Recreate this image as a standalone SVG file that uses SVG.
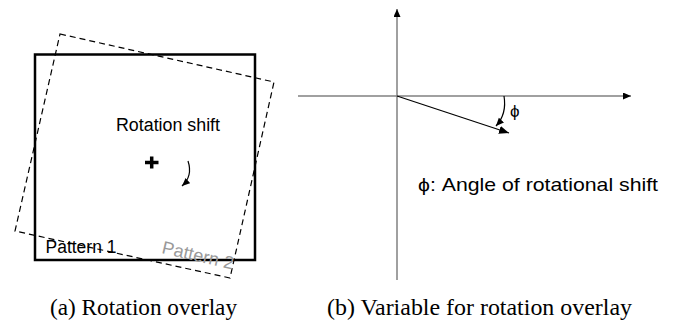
<svg xmlns="http://www.w3.org/2000/svg" width="676" height="325" viewBox="0 0 676 325">
<style>
.sans{font-family:"Liberation Sans",Arial,sans-serif;font-size:18px;fill:#000}
.serif{font-family:"Liberation Serif","Times New Roman",serif;font-size:23px;fill:#000}
.axis{stroke:#808080;stroke-width:1.5;fill:none}
.thin{stroke:#000;stroke-width:1.2;fill:none}
</style>
<defs>
<marker id="ah" markerUnits="userSpaceOnUse" markerWidth="12" markerHeight="10" refX="10" refY="4" orient="auto">
<path d="M0,0 L10,4 L0,8 Z" fill="#000"/>
</marker>
<marker id="ahs" markerUnits="userSpaceOnUse" markerWidth="10" markerHeight="8" refX="8" refY="3.5" orient="auto">
<path d="M0,0 L8,3.5 L0,7 Z" fill="#000"/>
</marker>
</defs>
<rect x="0" y="0" width="676" height="325" fill="#fff"/>
<g id="panel-a">
<g id="pattern1-square">
<rect x="35" y="54.5" width="220" height="205.5" fill="none" stroke="#000" stroke-width="2.5"/>
</g>
<g id="pattern2-square">
<polygon points="60,34 274,82 230,278 15,231" fill="none" stroke="#000" stroke-width="1.2" stroke-dasharray="6,4"/>
</g>
<g id="center-plus">
<path d="M145,162.5 H158.5 M151.7,156.5 V168.5" stroke="#000" stroke-width="3.5" fill="none"/>
</g>
<text class="sans" x="116" y="131" textLength="104" lengthAdjust="spacingAndGlyphs">Rotation shift</text>
<text class="sans" x="45.5" y="253" textLength="71" lengthAdjust="spacingAndGlyphs">Pattern 1</text>
<text class="sans" x="161" y="253" style="fill:#999" transform="rotate(13 161 253)">Pattern 2</text>
</g>
<g id="panel-b">
<g id="phi-label">
<text class="sans" x="510" y="117" style="font-size:17px">ϕ</text>
</g>
<text class="sans" x="418" y="191" style="font-size:19px" textLength="240" lengthAdjust="spacingAndGlyphs">ϕ: Angle of rotational shift</text>
</g>
<g id="connectors">
<path class="thin" d="M188,161 Q193,176 182,186" marker-end="url(#ahs)"/>
<path class="axis" d="M397,280 V9" marker-end="url(#ahs)"/>
<path class="axis" d="M298,96 H631" marker-end="url(#ahs)"/>
<path class="thin" d="M397,96 L509,133" marker-end="url(#ah)"/>
<path class="thin" d="M504,96 Q507,114 496,126" marker-end="url(#ahs)"/>
</g>
<g id="captions">
<text class="serif" x="50" y="315" textLength="187" lengthAdjust="spacingAndGlyphs">(a) Rotation overlay</text>
<text class="serif" x="327" y="315" textLength="305" lengthAdjust="spacingAndGlyphs">(b) Variable for rotation overlay</text>
</g>
</svg>
